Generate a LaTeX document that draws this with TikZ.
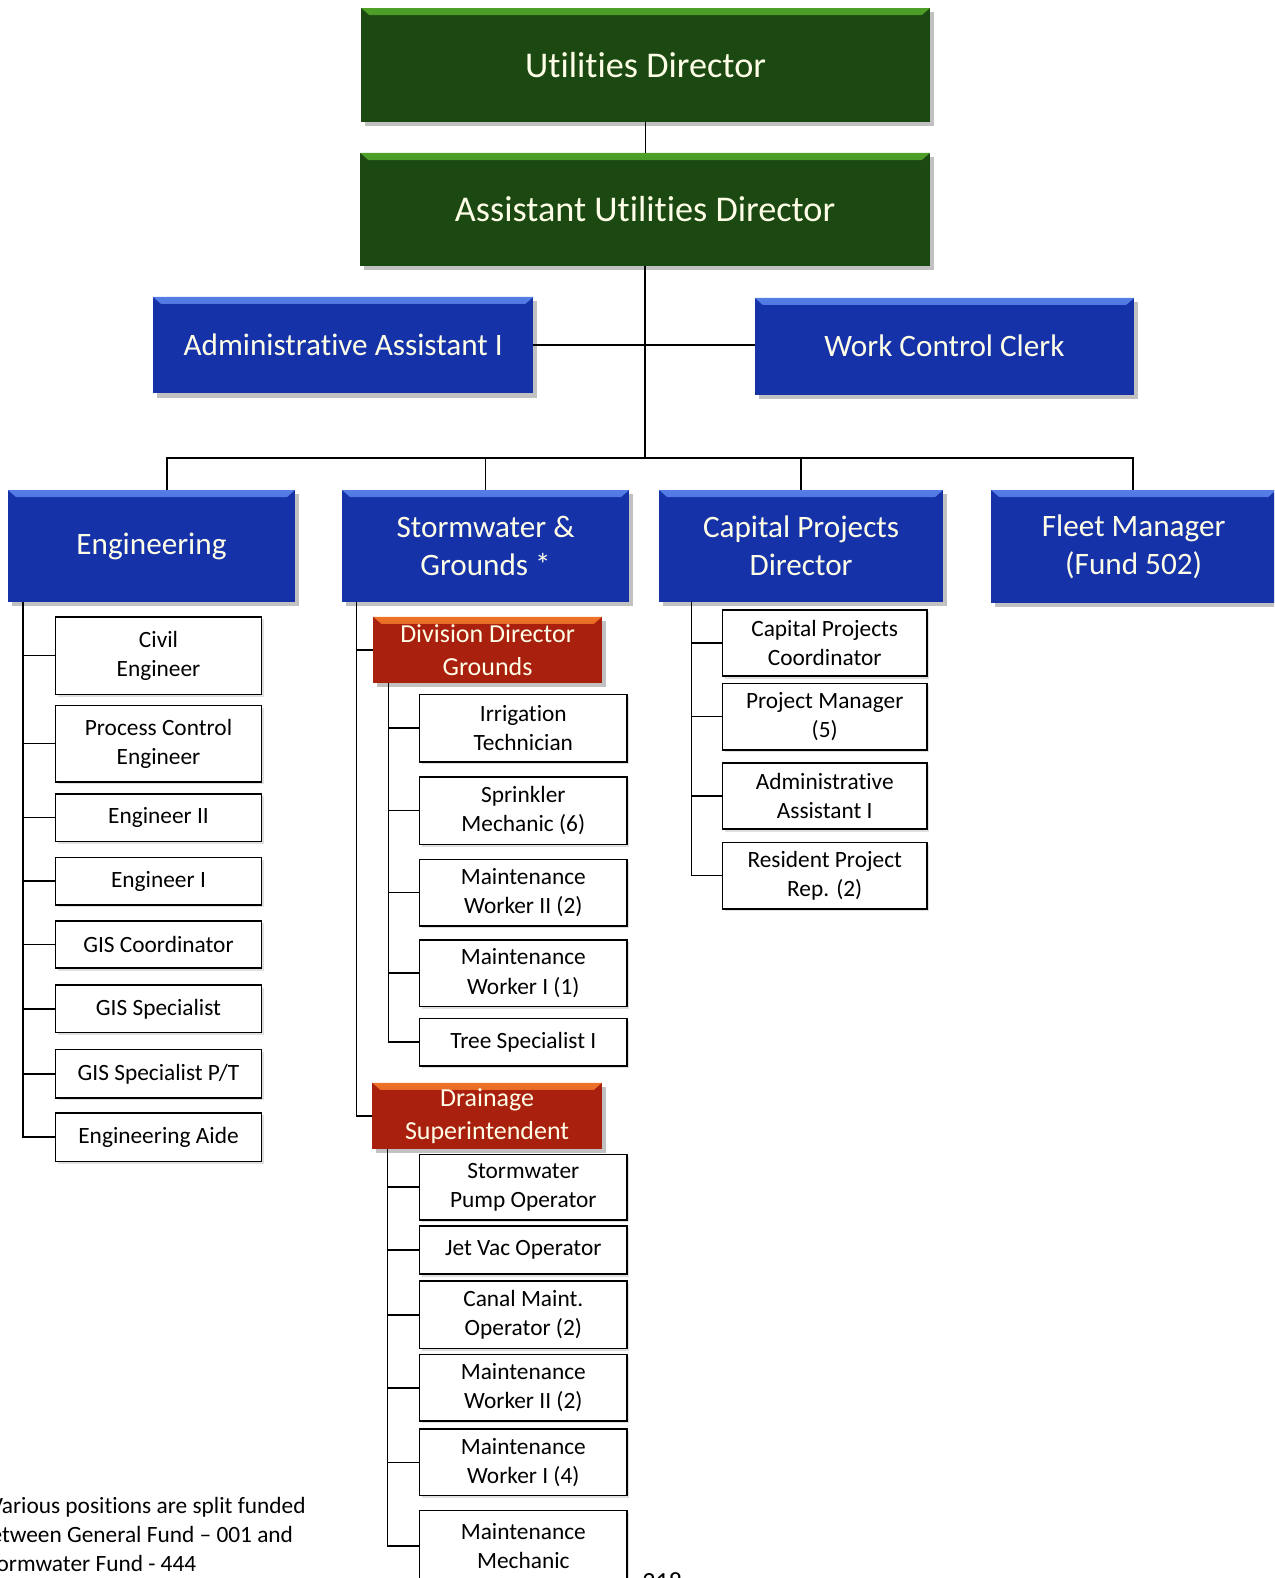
\documentclass[tikz,border=0pt]{standalone}
\usepackage{fontspec}
\setmainfont{Carlito}[Ligatures={NoCommon}]
\usetikzlibrary{shadows}
\definecolor{gfill}{RGB}{28,72,18}
\definecolor{gtop}{RGB}{78,160,40}
\definecolor{bfill}{RGB}{22,50,168}
\definecolor{btop}{RGB}{85,125,230}
\definecolor{rfill}{RGB}{170,32,14}
\definecolor{rtop}{RGB}{238,115,40}
\definecolor{cream}{RGB}{255,255,232}
\newcommand\bevelfill[2]{\shade[top color=#1,bottom color=#2] (path picture bounding box.north west) -- (path picture bounding box.north east) -- ([shift={(-4pt,-3.5pt)}]path picture bounding box.north east) -- ([shift={(4pt,-3.5pt)}]path picture bounding box.north west) -- cycle;}
\newcommand\place[7]{\node[#1, minimum width={(#5-#3)*0.5pt}, minimum height={(#6-#4)*0.5pt}] (#2) at ({(#3+#5)/2},{(#4+#6)/2}) {#7};}
\tikzset{
  cbase/.style={inner sep=0pt, outer sep=0pt, align=center, text=cream,
    drop shadow={shadow xshift=2pt, shadow yshift=-2pt, opacity=0.35, fill=black!70}},
  greenbox/.style={cbase, fill=gfill, font=\fontsize{18}{22}\selectfont, path picture={\bevelfill{gtop}{gfill}}},
  bluebox/.style={cbase, fill=bfill, font=\fontsize{15.5}{19}\selectfont, path picture={\bevelfill{btop}{bfill}}},
  redbox/.style={cbase, fill=rfill, font=\fontsize{12.9}{16}\selectfont, path picture={\bevelfill{rtop}{rfill}}},
  whitebox/.style={inner sep=0pt, outer sep=0pt, align=center, draw=black, line width=0.8pt, fill=white,
    font=\fontsize{11.6}{14.5}\selectfont, text=black,
    drop shadow={shadow xshift=1.2pt, shadow yshift=-1.2pt, opacity=0.2, fill=black!60}},
  conn/.style={draw=black, line width=0.75pt}
}
\begin{document}
\begin{tikzpicture}[x=0.5pt, y=-0.5pt]
\useasboundingbox (0,0) rectangle (1266,1568);
\clip (0,0) rectangle (1266,1568);
% top
\place{greenbox}{ud}{359}{8}{924}{121}{Utilities Director}
\place{greenbox}{aud}{358}{152}{924}{264}{Assistant Utilities Director}
\place{bluebox}{aa}{152}{295}{530}{391}{Administrative Assistant I}
\place{bluebox}{wcc}{750}{296}{1127}{392}{Work Control Clerk}
% departments
\place{bluebox}{eng}{8}{487}{293}{598}{Engineering}
\place{bluebox}{sg}{340}{487}{625}{598}{Stormwater \&\\Grounds *}
\place{bluebox}{cpd}{655}{487}{937}{598}{Capital Projects\\Director}
\place{bluebox}{fm}{985}{487}{1268}{599}{Fleet Manager\\(Fund 502)}
% engineering
\place{whitebox}{e1}{55}{613}{260}{690}{Civil\\Engineer}
\place{whitebox}{e2}{55}{701}{260}{777}{Process Control\\Engineer}
\place{whitebox}{e3}{55}{789}{260}{836}{Engineer II}
\place{whitebox}{e4}{55}{852}{260}{899}{Engineer I}
\place{whitebox}{e5}{55}{915}{260}{962}{GIS Coordinator}
\place{whitebox}{e6}{55}{979}{260}{1026}{GIS Specialist}
\place{whitebox}{e7}{55}{1043}{260}{1091}{GIS Specialist P/T}
\place{whitebox}{e8}{55}{1106}{260}{1154}{Engineering Aide}
% stormwater & grounds
\place{redbox}{ddg}{371}{613}{598}{679}{Division Director\\Grounds}
\place{whitebox}{g1}{417}{690}{623}{757}{Irrigation\\Technician}
\place{whitebox}{g2}{417}{772}{623}{839}{Sprinkler\\Mechanic (6)}
\place{whitebox}{g3}{417}{854}{623}{920}{Maintenance\\Worker II (2)}
\place{whitebox}{g4}{417}{934}{623}{1000}{Maintenance\\Worker I (1)}
\place{whitebox}{g5}{417}{1012}{623}{1059}{Tree Specialist I}
\place{redbox}{ds}{370}{1076}{598}{1142}{Drainage\\Superintendent}
\place{whitebox}{d1}{417}{1147}{623}{1212}{Stormwater\\Pump Operator}
\place{whitebox}{d2}{417}{1218}{623}{1266}{Jet Vac Operator}
\place{whitebox}{d3}{417}{1273}{623}{1340}{Canal Maint.\\Operator (2)}
\place{whitebox}{d4}{417}{1346}{623}{1412}{Maintenance\\Worker II (2)}
\place{whitebox}{d5}{417}{1420}{623}{1486}{Maintenance\\Worker I (4)}
\place{whitebox}{d6}{417}{1501}{623}{1571}{Maintenance\\Mechanic}
% capital projects
\place{whitebox}{c1}{718}{606}{921}{672}{Capital Projects\\Coordinator}
\place{whitebox}{c2}{718}{679}{921}{745}{Project Manager\\(5)}
\place{whitebox}{c3}{718}{758}{921}{824}{Administrative\\Assistant I}
\place{whitebox}{c4}{718}{837}{921}{903}{Resident Project\\Rep. (2)}
% connectors
\coordinate (hub) at (641,455);
\coordinate (busL) at (166,455);
\coordinate (busR) at (1126,455);
\draw[conn] (ud.south) -- (ud.south |- aud.north);
\draw[conn] (aud.south) -- (aud.south |- hub);
\draw[conn] (aa.east) -- (aa.east -| wcc.west);
\draw[conn] (busL |- eng.north) -- (busL) -- (busR) -- (busR |- fm.north);
\draw[conn] (sg.north) -- (sg.north |- busL);
\draw[conn] (cpd.north) -- (cpd.north |- busL);
\coordinate (engsp) at (23,598);
\draw[conn] (engsp) |- (e8.west);
\foreach \n in {e1,e2,e3,e4,e5,e6,e7} \draw[conn] (engsp |- \n.west) -- (\n.west);
\coordinate (sgsp) at (354,598);
\draw[conn] (sgsp) |- (ds.west);
\draw[conn] (sgsp |- ddg.west) -- (ddg.west);
\coordinate (gsp) at (386,679);
\draw[conn] (gsp) |- (g5.west);
\foreach \n in {g1,g2,g3,g4} \draw[conn] (gsp |- \n.west) -- (\n.west);
\coordinate (dsp) at (385,1142);
\draw[conn] (dsp) |- (d6.west);
\foreach \n in {d1,d2,d3,d4,d5} \draw[conn] (dsp |- \n.west) -- (\n.west);
\coordinate (csp) at (687,598);
\draw[conn] (csp) |- (c4.west);
\foreach \n in {c1,c2,c3} \draw[conn] (csp |- \n.west) -- (\n.west);
% note and page number (cut at the page edges, as in the reference)
\node[anchor=north west, align=left, inner sep=0pt, font=\fontsize{11.6}{14.5}\selectfont] (note) at (-22,1487) {*Various positions are split funded\\between General Fund – 001 and\\Stormwater Fund - 444};
\node[anchor=base, inner sep=0pt, font=\fontsize{13}{16}\selectfont] (pg) at (658,1580) {218};
\end{tikzpicture}
\end{document}
